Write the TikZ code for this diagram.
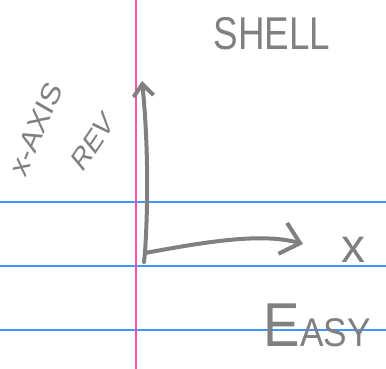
\documentclass[tikz,border=0pt]{standalone}
\usepackage{fontspec}
\setsansfont{Liberation Sans}
\definecolor{pencil}{RGB}{128,128,128}
\definecolor{marginpink}{RGB}{255,80,170}
\definecolor{ruleblue}{RGB}{60,150,255}
\usetikzlibrary{arrows.meta}

\begin{document}
\begin{tikzpicture}[
    x=1pt, y=-1pt,
    rule/.style ={draw=ruleblue, line width=1.2pt},
    margin/.style ={draw=marginpink, line width=1.4pt},
    axis/.style ={draw=pencil, line width=4pt, line cap=round},
    scrawl/.style ={text=pencil, font=\sffamily, inner sep=0pt}
]
\useasboundingbox[fill=white] (0,0) rectangle (386,369);
%% --- ruled paper ---
\foreach \y in {202,266,330}
  \draw[rule] (0,\y) -- (386,\y);
\draw[margin] (136,0) -- (136,369);

%% --- hand lettering ---
\node[scrawl, font=\sffamily\fontsize{46}{46}\selectfont, xscale=0.8] (shell) at (272,34) {SHELL};
\node[scrawl, font=\sffamily\fontsize{32}{32}\selectfont, xscale=0.85, rotate=64] (xaxis) at (36,129) {x-AXIS};
\node[scrawl, font=\sffamily\fontsize{32}{32}\selectfont, xscale=0.75, rotate=48] (rev) at (93,142) {REV};
\node[scrawl, font=\sffamily\fontsize{48}{48}\selectfont] (xlab) at (353,250) {x};
\node[scrawl, font=\sffamily\fontsize{40}{40}\selectfont, xscale=0.88, anchor=base west] (easy) at (263,346)
  {{\fontsize{62}{62}\selectfont E}\kern1pt ASY};

%% --- axes ---
\coordinate (origin) at (145,253);
\coordinate (ytip) at (142,81);
\coordinate (xtip) at (303,244);
\draw[axis] (144,262) -- (origin);
\draw[axis, -{Straight Barb[length=12, width=20]}]
  (origin) .. controls (149,190) and (147,130) .. (ytip);
\draw[axis, -{Straight Barb[length=18, width=32]}]
  (origin) .. controls (200,243) and (260,232) .. (xtip);
\end{tikzpicture}
\end{document}
